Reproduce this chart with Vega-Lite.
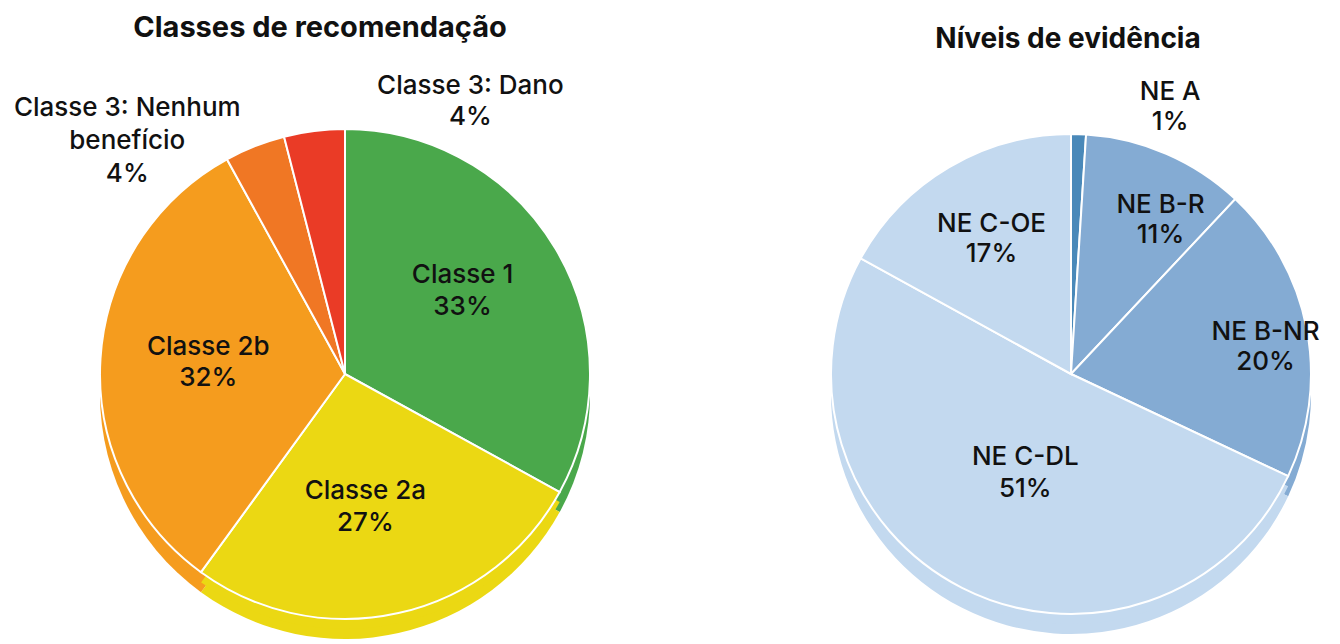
{
  "$schema": "https://vega.github.io/schema/vega-lite/v6.json",
  "padding": {"top": 14, "left": 0, "right": 0, "bottom": 0},
  "spacing": 112,
  "background": "#ffffff",
  "resolve": {"scale": {"color": "independent", "theta": "independent"}},
  "config": {"view": {"stroke": null}, "font": "Inter"},
  "datasets": {
    "cls": [
      {"k": "Classe 1", "v": 33, "o": 1, "lab": "Classe 1\n33%"},
      {"k": "Classe 2a", "v": 27, "o": 2, "lab": "Classe 2a\n27%"},
      {"k": "Classe 2b", "v": 32, "o": 3, "lab": "Classe 2b\n32%"},
      {"k": "Classe 3: Nenhum benefício", "v": 4, "o": 4, "lab": "Classe 3: Nenhum\nbenefício\n4%"},
      {"k": "Classe 3: Dano", "v": 4, "o": 5, "lab": "Classe 3: Dano\n4%"}
    ],
    "ne": [
      {"k": "NE A", "v": 1, "o": 1, "lab": "NE A\n1%"},
      {"k": "NE B-R", "v": 11, "o": 2, "lab": "NE B-R\n11%"},
      {"k": "NE B-NR", "v": 20, "o": 3, "lab": "NE B-NR\n20%"},
      {"k": "NE C-DL", "v": 51, "o": 4, "lab": "NE C-DL\n51%"},
      {"k": "NE C-OE", "v": 17, "o": 5, "lab": "NE C-OE\n17%"}
    ]
  },
  "hconcat": [
    {
      "width": 690,
      "height": 594,
      "title": {"text": "Classes de recomendação", "fontSize": 29, "fontWeight": "bold", "anchor": "middle", "dx": -25, "offset": 6, "font": "Inter", "color": "#111111"},
      "data": {"name": "cls"},
      "encoding": {
        "theta": {"field": "v", "type": "quantitative", "stack": true},
        "order": {"field": "o", "type": "quantitative"}
      },
      "layer": [
        {"mark": {"type": "arc", "radius": 245, "yOffset": 48},
         "encoding": {"color": {"field": "k", "type": "nominal", "legend": null,
           "scale": {"domain": ["Classe 1", "Classe 2a", "Classe 2b", "Classe 3: Nenhum benefício", "Classe 3: Dano"],
                     "range": ["#4aa84b", "#ebd813", "#f59c1e", "#f07724", "#ea3b26"]}}}},
        {"mark": {"type": "arc", "radius": 245, "yOffset": 38},
         "encoding": {"color": {"field": "k", "type": "nominal", "legend": null}}},
        {"mark": {"type": "arc", "radius": 245, "yOffset": 28, "stroke": "#ffffff", "strokeWidth": 2},
         "encoding": {"color": {"field": "k", "type": "nominal", "legend": null}}},
        {"mark": {"type": "text", "clip": true, "radius": 140, "dx": -3, "dy": 0, "fontSize": 26, "fontWeight": 500, "lineBreak": "\n", "lineHeight": 32, "fill": "#111111", "align": "center", "baseline": "middle"},
         "encoding": {"text": {"condition": {"test": "datum.k === 'Classe 1'", "field": "lab"}, "value": ""}}},
        {"mark": {"type": "text", "clip": true, "radius": 130, "dx": -8, "dy": 18, "fontSize": 26, "fontWeight": 500, "lineBreak": "\n", "lineHeight": 32, "fill": "#111111", "align": "center", "baseline": "middle"},
         "encoding": {"text": {"condition": {"test": "datum.k === 'Classe 2a'", "field": "lab"}, "value": ""}}},
        {"mark": {"type": "text", "clip": true, "radius": 140, "dx": 3, "dy": 10, "fontSize": 26, "fontWeight": 500, "lineBreak": "\n", "lineHeight": 31, "fill": "#111111", "align": "center", "baseline": "middle"},
         "encoding": {"text": {"condition": {"test": "datum.k === 'Classe 2b'", "field": "lab"}, "value": ""}}},
        {"mark": {"type": "text", "clip": true, "radius": 260, "dx": -122, "dy": 4, "fontSize": 26, "fontWeight": 500, "lineBreak": "\n", "lineHeight": 33, "fill": "#111111", "align": "center", "baseline": "middle"},
         "encoding": {"text": {"condition": {"test": "datum.k === 'Classe 3: Nenhum benefício'", "field": "lab"}, "value": ""}}},
        {"mark": {"type": "text", "clip": true, "radius": 260, "dx": 158, "dy": -2, "fontSize": 26, "fontWeight": 500, "lineBreak": "\n", "lineHeight": 31, "fill": "#111111", "align": "center", "baseline": "middle"},
         "encoding": {"text": {"condition": {"test": "datum.k === 'Classe 3: Dano'", "field": "lab"}, "value": ""}}}
      ]
    },
    {
      "width": 538,
      "height": 594,
      "title": {"text": "Níveis de evidência", "fontSize": 28, "fontWeight": "bold", "anchor": "middle", "dx": -3, "dy": 11, "offset": 6, "font": "Inter", "color": "#111111"},
      "data": {"name": "ne"},
      "encoding": {
        "theta": {"field": "v", "type": "quantitative", "stack": true},
        "order": {"field": "o", "type": "quantitative"}
      },
      "layer": [
        {"mark": {"type": "arc", "radius": 240, "yOffset": 48},
         "encoding": {"color": {"field": "k", "type": "nominal", "legend": null,
           "scale": {"domain": ["NE A", "NE B-R", "NE B-NR", "NE C-DL", "NE C-OE"],
                     "range": ["#4a89b9", "#84abd3", "#84abd3", "#c3d9ef", "#c3d9ef"]}}}},
        {"mark": {"type": "arc", "radius": 240, "yOffset": 38},
         "encoding": {"color": {"field": "k", "type": "nominal", "legend": null}}},
        {"mark": {"type": "arc", "radius": 240, "yOffset": 28, "stroke": "#ffffff", "strokeWidth": 2},
         "encoding": {"color": {"field": "k", "type": "nominal", "legend": null}}},
        {"mark": {"type": "text", "clip": true, "radius": 260, "dx": 91, "dy": 6, "fontSize": 26, "fontWeight": 500, "lineBreak": "\n", "lineHeight": 30, "fill": "#111111", "align": "center", "baseline": "middle"},
         "encoding": {"text": {"condition": {"test": "datum.k === 'NE A'", "field": "lab"}, "value": ""}}},
        {"mark": {"type": "text", "clip": true, "radius": 175, "dx": 20, "dy": 20, "fontSize": 26, "fontWeight": 500, "lineBreak": "\n", "lineHeight": 30, "fill": "#111111", "align": "center", "baseline": "middle"},
         "encoding": {"text": {"condition": {"test": "datum.k === 'NE B-R'", "field": "lab"}, "value": ""}}},
        {"mark": {"type": "text", "clip": true, "radius": 195, "dx": 3, "dy": 23, "fontSize": 26, "fontWeight": 500, "lineBreak": "\n", "lineHeight": 30, "fill": "#111111", "align": "center", "baseline": "middle"},
         "encoding": {"text": {"condition": {"test": "datum.k === 'NE B-NR'", "field": "lab"}, "value": ""}}},
        {"mark": {"type": "text", "clip": true, "radius": 105, "dx": 2, "dy": 17, "fontSize": 26, "fontWeight": 500, "lineBreak": "\n", "lineHeight": 32, "fill": "#111111", "align": "center", "baseline": "middle"},
         "encoding": {"text": {"condition": {"test": "datum.k === 'NE C-DL'", "field": "lab"}, "value": ""}}},
        {"mark": {"type": "text", "clip": true, "radius": 160, "dx": 2, "dy": 16, "fontSize": 26, "fontWeight": 500, "lineBreak": "\n", "lineHeight": 30, "fill": "#111111", "align": "center", "baseline": "middle"},
         "encoding": {"text": {"condition": {"test": "datum.k === 'NE C-OE'", "field": "lab"}, "value": ""}}}
      ]
    }
  ]
}
